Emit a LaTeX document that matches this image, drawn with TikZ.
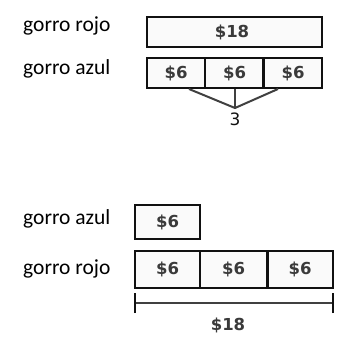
\documentclass[tikz,border=0pt]{standalone}
\usepackage{fontspec}
\setmainfont{Carlito}
\newfontfamily\boxfont{DejaVu Sans}
\definecolor{boxfill}{HTML}{FAFAFA}
\definecolor{ink}{HTML}{111111}
\definecolor{numtxt}{HTML}{3A3A3A}
\begin{document}
\begin{tikzpicture}[x=1pt,y=-1pt,
  lbl/.style={anchor=base west,inner sep=0pt,font=\fontsize{21.5}{24}\selectfont,text=black},
  cell/.style={draw=ink,fill=boxfill,line width=2.6pt,inner sep=0pt},
  num/.style={inner sep=0pt,font=\boxfont\bfseries\fontsize{16.5}{18}\selectfont,text=numtxt},
  link/.style={draw=black!75,line width=2pt}]
\useasboundingbox (0,0) rectangle (339,343);
% labels
\node[lbl] (l1) at (23,31) {gorro rojo};
\node[lbl] (l2) at (23,74) {gorro azul};
\node[lbl] (l3) at (23,224) {gorro azul};
\node[lbl] (l4) at (23,274) {gorro rojo};
% top model
\draw[cell] (147,17) rectangle (322,47);
\node[num] (t18) at (232,32) {\$18};
\draw[cell] (147,58) rectangle (205,88);
\draw[cell] (205,58) rectangle (263.5,88);
\draw[cell] (263.5,58) rectangle (322,88);
\node[num] (a1) at (176,73) {\$6};
\node[num] (a2) at (234.5,73) {\$6};
\node[num] (a3) at (293,73) {\$6};
\coordinate (p1) at (189,89);
\coordinate (p2) at (235,89);
\coordinate (p3) at (278,89);
\coordinate (pj) at (235,108);
\draw[link] (p1) -- (pj) -- (p3);
\draw[link] (p2) -- (pj);
\node[num,font=\boxfont\fontsize{17}{18}\selectfont,text=ink,anchor=north] (three) at (235,112.5) {3};
% bottom model
\draw[cell,line width=1.8pt] (135,205) rectangle (200,239);
\node[num] (b0) at (167.5,222) {\$6};
\draw[cell,line width=2.8pt] (135,251) rectangle (200,288);
\draw[cell,line width=2.8pt] (200,251) rectangle (267.5,288);
\draw[cell,line width=2.8pt] (267.5,251) rectangle (333,288);
\node[num] (c1) at (167.5,269.5) {\$6};
\node[num] (c2) at (233.7,269.5) {\$6};
\node[num] (c3) at (300.2,269.5) {\$6};
\coordinate (m1) at (135,303);
\coordinate (m2) at (333,303);
\draw[link,line width=2.4pt] (m1) -- (m2);
\draw[link,line width=2.6pt,draw=ink] ([yshift=-10pt]m1) -- ([yshift=10pt]m1);
\draw[link,line width=2.6pt,draw=ink] ([yshift=-10pt]m2) -- ([yshift=10pt]m2);
\node[num] (b18) at (228,325) {\$18};
\end{tikzpicture}
\end{document}
